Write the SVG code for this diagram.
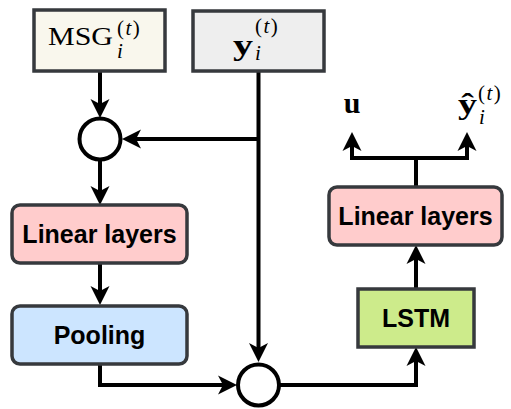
<svg xmlns="http://www.w3.org/2000/svg" width="511" height="409" viewBox="0 0 511 409">
<style>
.box{stroke:#36393d;stroke-width:3.5}
.lbl{font-family:"Liberation Sans",Arial,sans-serif;font-weight:bold;font-size:25px;fill:#000;text-anchor:middle}
.math{font-family:"Liberation Serif","DejaVu Serif",serif;fill:#000}
.sup{font-family:"Liberation Serif","DejaVu Serif",serif;fill:#000;font-size:21px;letter-spacing:1.5px}
.sub{font-family:"Liberation Serif","DejaVu Serif",serif;fill:#000;font-size:21px;font-style:italic}
.edge{fill:none;stroke:#000;stroke-width:4}
.op{fill:#fff;stroke:#000;stroke-width:4}
</style>
<defs>
<marker id="arr" viewBox="-8 -10 22 20" refX="0" refY="0" markerWidth="22" markerHeight="20" markerUnits="userSpaceOnUse" orient="auto" overflow="visible">
<path d="M12,0 L-7,-9.5 L-2,0 L-7,9.5 Z" fill="#000"/>
</marker>
</defs>
<g id="edges">
<path class="edge" d="M100,72 V106" marker-end="url(#arr)"/>
<path class="edge" d="M258.5,72 V350" marker-end="url(#arr)"/>
<path class="edge" d="M258.5,139 H134" marker-end="url(#arr)"/>
<path class="edge" d="M100,160 V193" marker-end="url(#arr)"/>
<path class="edge" d="M100,263 V293" marker-end="url(#arr)"/>
<path class="edge" d="M100,364 V385 H225" marker-end="url(#arr)"/>
<path class="edge" d="M280,385 H416 V359" marker-end="url(#arr)"/>
<path class="edge" d="M416,288 V257" marker-end="url(#arr)"/>
<path class="edge" d="M416,187 V158"/>
<path class="edge" d="M416,158 H352 V144" marker-end="url(#arr)"/>
<path class="edge" d="M416,158 H467 V144" marker-end="url(#arr)"/>
</g>
<g id="msg">
<rect class="box" x="34" y="10" width="131" height="61" fill="#f9f7ed"/>
<text class="math" x="48" y="45" font-size="26" textLength="65" lengthAdjust="spacingAndGlyphs">MSG</text>
<text class="sup" x="117" y="35">(<tspan font-style="italic">t</tspan>)</text>
<text class="sub" x="117" y="58">i</text>
</g>
<g id="yin">
<rect class="box" x="193" y="11" width="131" height="60" fill="#eeeeee"/>
<text class="math" x="233" y="55" font-size="29" font-weight="bold" textLength="20" lengthAdjust="spacingAndGlyphs">y</text>
<text class="sup" x="255" y="33">(<tspan font-style="italic">t</tspan>)</text>
<text class="sub" x="255" y="60">i</text>
</g>
<g id="concat1">
<circle class="op" cx="100" cy="139" r="20.5"/>
</g>
<g id="linear1">
<rect class="box" x="12" y="205" width="175" height="58" rx="8" fill="#ffcccc"/>
<text class="lbl" x="99.5" y="243">Linear layers</text>
</g>
<g id="pooling">
<rect class="box" x="12" y="306" width="175" height="58" rx="8" fill="#cce5ff"/>
<text class="lbl" x="99.5" y="344">Pooling</text>
</g>
<g id="concat2">
<circle class="op" cx="258.5" cy="385" r="20.5"/>
</g>
<g id="lstm">
<rect class="box" x="358" y="289" width="116" height="58" fill="#cdeb8b"/>
<text class="lbl" x="416" y="326.5">LSTM</text>
</g>
<g id="linear2">
<rect class="box" x="329" y="187" width="173" height="58" rx="8" fill="#ffcccc"/>
<text class="lbl" x="415.5" y="225">Linear layers</text>
</g>
<g id="out_u">
<text class="math" x="352" y="113" font-size="30" font-weight="bold" text-anchor="middle">u</text>
</g>
<g id="out_y">
<text class="math" x="458" y="114" font-size="30" font-weight="bold" textLength="19" lengthAdjust="spacingAndGlyphs">ŷ</text>
<text class="sup" x="478" y="100">(<tspan font-style="italic">t</tspan>)</text>
<text class="sub" x="479" y="124">i</text>
</g>
</svg>
